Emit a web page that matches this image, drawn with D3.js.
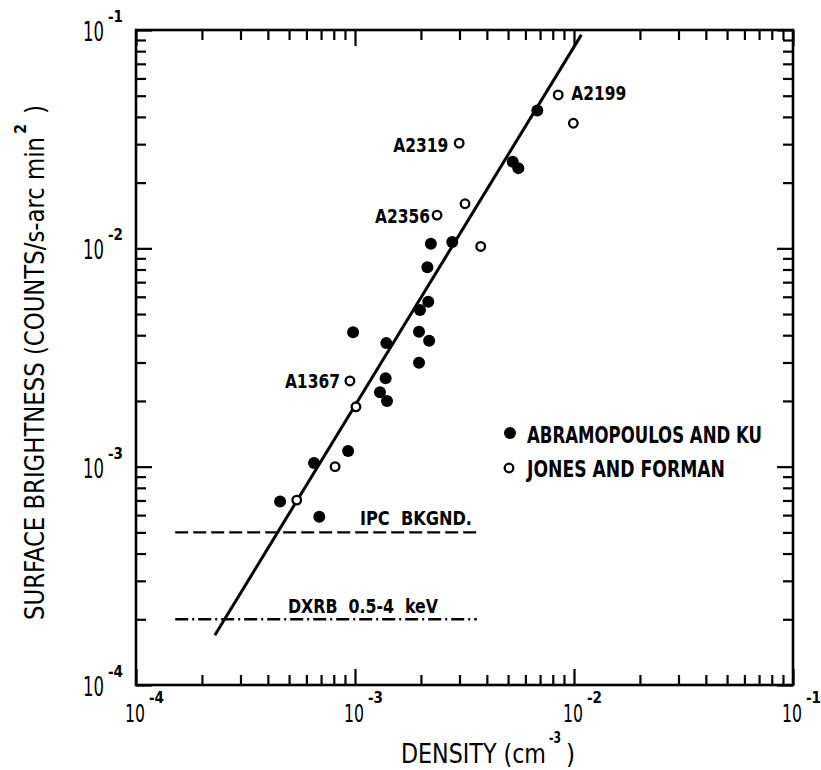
<!DOCTYPE html>
<meta charset="utf-8">
<script src="https://d3js.org/d3.v7.min.js"></script>
<style>
  body { margin: 0; background: #fff; }
  text { font-family: "Liberation Sans Narrow", "DejaVu Sans Condensed", "Roboto Condensed", sans-serif; fill: #000; }
  .b { font-weight: bold; }
</style>
<svg id="chart" width="821" height="770"></svg>
<script>

// Abramopoulos and Ku (filled circles): density (cm^-3), surface brightness
const abramX = [6.8e-3, 5.25e-3, 5.57e-3, 2.22e-3, 2.78e-3, 2.14e-3, 2.16e-3, 1.98e-3, 9.8e-4, 1.96e-3,
                2.18e-3, 1.39e-3, 1.96e-3, 1.38e-3, 1.30e-3, 1.40e-3, 9.3e-4, 6.5e-4, 4.55e-4, 6.87e-4];
const abramY = [4.28e-2, 2.49e-2, 2.33e-2, 1.05e-2, 1.07e-2, 8.2e-3, 5.7e-3, 5.22e-3, 4.13e-3, 4.15e-3,
                3.77e-3, 3.68e-3, 2.99e-3, 2.54e-3, 2.19e-3, 2.0e-3, 1.18e-3, 1.04e-3, 6.92e-4, 5.9e-4];

// Jones and Forman (open circles)
const jonesX = [8.47e-3, 9.93e-3, 2.99e-3, 2.37e-3, 3.18e-3, 3.75e-3, 9.48e-4, 1.01e-3, 8.11e-4, 5.42e-4];
const jonesY = [5.04e-2, 3.74e-2, 3.03e-2, 1.42e-2, 1.60e-2, 1.02e-2, 2.47e-3, 1.88e-3, 1.0e-3, 7.03e-4];
const jonesNames = ["A2199", "", "A2319", "A2356", "", "", "A1367", "", "", ""];

// fitted relation and background levels
const fitX = [2.29e-4, 1.08e-2];
const fitY = [1.69e-4, 9.5e-2];
const bkgX = [1.51e-4, 3.6e-3];
const ipcLevel = 5e-4;
const dxrbLevel = 2e-4;

const decades = [1e-4, 1e-3, 1e-2, 1e-1];
const decadeExp = ["-4", "-3", "-2", "-1"];

const svg = d3.select("#chart");

const x = d3.scaleLog().domain([1e-4, 1e-1]).range([136, 793]);
const y = d3.scaleLog().domain([1e-4, 1e-1]).range([685, 30]);

// minor ticks 2..9 in each decade
const minor = [];
decades.slice(0, 3).forEach(d => { for (let k = 2; k <= 9; k++) minor.push(d * k); });

// ---- axes (ticks point inward on all four sides)
function addAxis(axis, tx, ty) {
  const g = svg.append("g").attr("transform", `translate(${tx},${ty})`).call(axis);
  g.select(".domain").remove();
  g.selectAll("line").attr("stroke", "#000").attr("stroke-width", 2.2);
  g.selectAll("text").remove();
}
[[d3.axisBottom, x, 0, 685], [d3.axisTop, x, 0, 30], [d3.axisLeft, y, 136, 0], [d3.axisRight, y, 793, 0]]
  .forEach(([fn, sc, tx, ty]) => {
    addAxis(fn(sc).tickValues(minor).tickSize(-10).tickSizeOuter(0), tx, ty);
    addAxis(fn(sc).tickValues(decades).tickSize(-16).tickSizeOuter(0), tx, ty);
  });

svg.append("rect")
  .attr("x", 136).attr("y", 30)
  .attr("width", 793 - 136).attr("height", 685 - 30)
  .attr("fill", "none").attr("stroke", "#000").attr("stroke-width", 2.6);

// tick labels
decades.forEach((d, i) => {
  svg.append("text").attr("x", x(d) - 11).attr("y", 722)
    .attr("font-size", 25).attr("textLength", 20).attr("lengthAdjust", "spacingAndGlyphs").text("10");
  svg.append("text").attr("class", "b").attr("x", x(d) + 13).attr("y", 703)
    .attr("font-size", 16).attr("textLength", 15).attr("lengthAdjust", "spacingAndGlyphs").text(decadeExp[i]);

  svg.append("text").attr("x", 83).attr("y", y(d) + 11)
    .attr("font-size", 26).attr("textLength", 21).attr("lengthAdjust", "spacingAndGlyphs").text("10");
  svg.append("text").attr("class", "b").attr("x", 108).attr("y", y(d) - 8)
    .attr("font-size", 16).attr("textLength", 15).attr("lengthAdjust", "spacingAndGlyphs").text(decadeExp[i]);
});

// axis titles
svg.append("text").attr("x", 401).attr("y", 763)
  .attr("font-size", 26).attr("textLength", 145).attr("lengthAdjust", "spacingAndGlyphs").text("DENSITY (cm");
svg.append("text").attr("class", "b").attr("x", 549).attr("y", 743)
  .attr("font-size", 16).attr("textLength", 12).attr("lengthAdjust", "spacingAndGlyphs").text("-3");
svg.append("text").attr("x", 566).attr("y", 763)
  .attr("font-size", 26).text(")");

svg.append("text").attr("transform", "translate(44,620) rotate(-90)")
  .attr("font-size", 26).attr("textLength", 483).attr("lengthAdjust", "spacingAndGlyphs")
  .text("SURFACE BRIGHTNESS (COUNTS/s-arc min");
svg.append("text").attr("class", "b").attr("transform", "translate(26,134) rotate(-90)")
  .attr("font-size", 16).text("2");
svg.append("text").attr("transform", "translate(44,114) rotate(-90)")
  .attr("font-size", 26).text(")");

// background levels
svg.append("line")
  .attr("x1", x(bkgX[0])).attr("x2", x(bkgX[1]))
  .attr("y1", y(ipcLevel)).attr("y2", y(ipcLevel))
  .attr("stroke", "#000").attr("stroke-width", 2.4).attr("stroke-dasharray", "13,5");
svg.append("line")
  .attr("x1", x(bkgX[0])).attr("x2", x(bkgX[1]))
  .attr("y1", y(dxrbLevel)).attr("y2", y(dxrbLevel))
  .attr("stroke", "#000").attr("stroke-width", 2.4).attr("stroke-dasharray", "13,4,2,4");

svg.append("text").attr("class", "b").attr("x", 360).attr("y", 525)
  .attr("font-size", 20).attr("textLength", 112).attr("lengthAdjust", "spacingAndGlyphs")
  .attr("xml:space", "preserve").text("IPC  BKGND.");
svg.append("text").attr("class", "b").attr("x", 288).attr("y", 613)
  .attr("font-size", 20).attr("textLength", 150).attr("lengthAdjust", "spacingAndGlyphs")
  .attr("xml:space", "preserve").text("DXRB  0.5-4  keV");

// fitted line
svg.append("line")
  .attr("x1", x(fitX[0])).attr("y1", y(fitY[0]))
  .attr("x2", x(fitX[1])).attr("y2", y(fitY[1]))
  .attr("stroke", "#000").attr("stroke-width", 3);

// points
const abram = abramX.map((v, i) => ({ x: v, y: abramY[i] }));
const jones = jonesX.map((v, i) => ({ x: v, y: jonesY[i], name: jonesNames[i] }));

svg.append("g").selectAll("circle")
  .data(abram)
  .join("circle")
    .attr("cx", d => x(d.x))
    .attr("cy", d => y(d.y))
    .attr("r", 6)
    .attr("fill", "#000");

svg.append("g").selectAll("circle")
  .data(jones)
  .join("circle")
    .attr("cx", d => x(d.x))
    .attr("cy", d => y(d.y))
    .attr("r", 4.3)
    .attr("fill", "#fff")
    .attr("stroke", "#000")
    .attr("stroke-width", 2.3);

// cluster names
const nameOffset = { A2199: [13, 5, "start"], A2319: [-11, 9, "end"], A2356: [-7, 8, "end"], A1367: [-10, 7, "end"] };
svg.append("g").selectAll("text")
  .data(jones.filter(d => d.name))
  .join("text")
    .attr("class", "b")
    .attr("x", d => x(d.x) + nameOffset[d.name][0])
    .attr("y", d => y(d.y) + nameOffset[d.name][1])
    .attr("text-anchor", d => nameOffset[d.name][2])
    .attr("font-size", 20)
    .attr("textLength", 55).attr("lengthAdjust", "spacingAndGlyphs")
    .text(d => d.name);

// legend
svg.append("circle").attr("cx", 510).attr("cy", 433).attr("r", 6).attr("fill", "#000");
svg.append("circle").attr("cx", 509).attr("cy", 468).attr("r", 4.3)
  .attr("fill", "#fff").attr("stroke", "#000").attr("stroke-width", 2.3);
svg.append("text").attr("class", "b").attr("x", 527).attr("y", 443)
  .attr("font-size", 23).attr("textLength", 235).attr("lengthAdjust", "spacingAndGlyphs")
  .text("ABRAMOPOULOS AND KU");
svg.append("text").attr("class", "b").attr("x", 527).attr("y", 477)
  .attr("font-size", 23).attr("textLength", 198).attr("lengthAdjust", "spacingAndGlyphs")
  .text("JONES AND FORMAN");

</script>
